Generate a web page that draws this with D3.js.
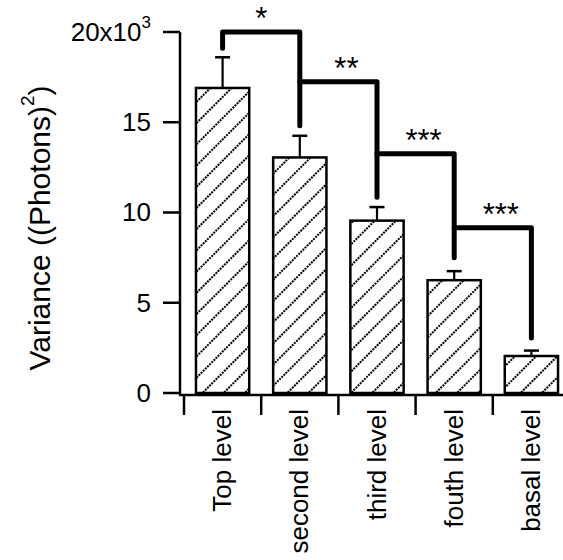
<!DOCTYPE html>
<html>
<head>
<meta charset="utf-8">
<script src="https://cdn.jsdelivr.net/npm/d3@7"></script>
<style>
  body { margin: 0; background: #fff; }
  svg { display: block; font-family: "Liberation Sans", Arial, sans-serif; }
</style>
</head>
<body>
<svg id="chart" width="563" height="560"></svg>
<script>
// data (variance in units of 10^3)
var categories = ["Top level", "second level", "third level", "fouth level", "basal level"];
var values = [16.9, 13.05, 9.55, 6.25, 2.05];
var errors = [1.7, 1.2, 0.75, 0.5, 0.3];
var yTicks = [0, 5, 10, 15, 20];

// significance brackets between neighbouring bars
var sigLabels = ["*", "**", "***", "***"];
var sigTop = [20, 17.25, 13.25, 9.15];
var sigLeftEnd = [19.1, 17.25, 13.25, 9.15];
var sigRightEnd = [14.8, 10.85, 7.5, 3.05];

var svg = d3.select("#chart");

var y = d3.scaleLinear().domain([0, 20]).range([393, 32]);
var x = d3.scaleBand().domain(categories).range([184, 570])
    .paddingInner(0.31).paddingOuter(0.155);

function cx(i) { return x(categories[i]) + x.bandwidth() / 2; }

// hatch
var defs = svg.append("defs");
var pat = defs.append("pattern")
    .attr("id", "hatch")
    .attr("patternUnits", "userSpaceOnUse")
    .attr("width", 15).attr("height", 15)
    .attr("patternTransform", "rotate(45)");
pat.append("line")
    .attr("x1", 1).attr("y1", 0).attr("x2", 1).attr("y2", 15)
    .attr("stroke", "#000").attr("stroke-width", 2)
    .attr("stroke-dasharray", "2,1");

// y axis
var yAxis = svg.append("g");
yAxis.append("line")
    .attr("x1", 180).attr("x2", 180)
    .attr("y1", y(20)).attr("y2", y(0) + 2)
    .attr("stroke", "#000").attr("stroke-width", 2.5);
yAxis.selectAll(".tick").data(yTicks).enter().append("line")
    .attr("x1", 163).attr("x2", 180)
    .attr("y1", function(d) { return y(d); })
    .attr("y2", function(d) { return y(d); })
    .attr("stroke", "#000").attr("stroke-width", 2.5);
var yl = yAxis.selectAll(".lab").data(yTicks).enter().append("text")
    .attr("x", 151)
    .attr("y", function(d) { return y(d); })
    .attr("dy", "0.34em")
    .attr("text-anchor", "end")
    .attr("font-size", 26);
yl.each(function(d) {
    var t = d3.select(this);
    if (d == 20) {
        t.append("tspan").text("20x10");
        t.append("tspan").text("3").attr("font-size", 17).attr("dy", "-0.75em");
    } else {
        t.text(d);
    }
});

// title
var title = svg.append("text")
    .attr("transform", "translate(50,228) rotate(-90)")
    .attr("text-anchor", "middle")
    .attr("font-size", 30);
title.append("tspan").text("Variance ((Photons)");
title.append("tspan").text("2").attr("font-size", 19).attr("dy", "-0.85em");
title.append("tspan").text(")").attr("dy", "0.55em");

// x axis
var xAxis = svg.append("g");
xAxis.append("line")
    .attr("x1", 179).attr("x2", 563)
    .attr("y1", y(0) + 2).attr("y2", y(0) + 2)
    .attr("stroke", "#000").attr("stroke-width", 2.5);
xAxis.selectAll(".tick").data(categories).enter().append("line")
    .attr("x1", function(d) { return x(d) - x.step() * x.paddingInner() / 2; })
    .attr("x2", function(d) { return x(d) - x.step() * x.paddingInner() / 2; })
    .attr("y1", y(0) + 2).attr("y2", y(0) + 22)
    .attr("stroke", "#000").attr("stroke-width", 2.5);
xAxis.selectAll(".lab").data(categories).enter().append("text")
    .attr("transform", function(d) {
        return "translate(" + (x(d) + x.bandwidth() / 2) + "," + (y(0) + 16) + ") rotate(-90)";
    })
    .attr("dy", "0.33em")
    .attr("text-anchor", "end")
    .attr("font-size", 26)
    .text(function(d) { return d; });

// error bars
var eb = svg.append("g");
eb.selectAll(".stem").data(values).enter().append("line")
    .attr("x1", function(d, i) { return cx(i); })
    .attr("x2", function(d, i) { return cx(i); })
    .attr("y1", function(d) { return y(d); })
    .attr("y2", function(d, i) { return y(d + errors[i]); })
    .attr("stroke", "#000").attr("stroke-width", 2.2);
eb.selectAll(".cap").data(values).enter().append("line")
    .attr("x1", function(d, i) { return cx(i) - 7.5; })
    .attr("x2", function(d, i) { return cx(i) + 7.5; })
    .attr("y1", function(d, i) { return y(d + errors[i]); })
    .attr("y2", function(d, i) { return y(d + errors[i]); })
    .attr("stroke", "#000").attr("stroke-width", 2.5);

// bars
svg.append("g").selectAll("rect").data(values).enter().append("rect")
    .attr("x", function(d, i) { return x(categories[i]); })
    .attr("width", x.bandwidth())
    .attr("y", function(d) { return y(d); })
    .attr("height", function(d) { return y(0) - y(d); })
    .attr("fill", "url(#hatch)")
    .attr("stroke", "#000").attr("stroke-width", 2.5);

// significance brackets
var sig = svg.append("g");
sig.selectAll("path").data(sigLabels).enter().append("path")
    .attr("d", function(d, i) {
        return "M" + cx(i) + "," + y(sigLeftEnd[i]) +
            "L" + cx(i) + "," + y(sigTop[i]) +
            "L" + cx(i + 1) + "," + y(sigTop[i]) +
            "L" + cx(i + 1) + "," + y(sigRightEnd[i]);
    })
    .attr("fill", "none")
    .attr("stroke", "#000").attr("stroke-width", 5)
    .attr("stroke-linecap", "round")
    .attr("stroke-linejoin", "round");
sig.selectAll("text").data(sigLabels).enter().append("text")
    .attr("x", function(d, i) { return (cx(i) + cx(i + 1)) / 2 + (i ? 8 : 0); })
    .attr("y", function(d, i) { return y(sigTop[i]) - 3; })
    .attr("text-anchor", "middle")
    .attr("font-size", 31)
    .text(function(d) { return d; });
</script>
</body>
</html>
